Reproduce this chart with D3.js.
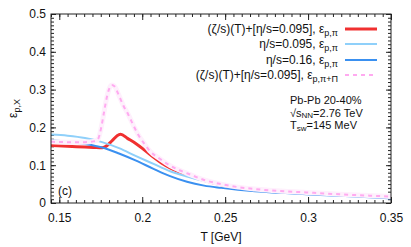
<!DOCTYPE html>
<html>
<head>
<meta charset="utf-8">
<script src="https://cdn.jsdelivr.net/npm/d3@7"></script>
<style>
  body { margin: 0; background: #fff; }
  svg { font-family: "Liberation Sans", Arial, sans-serif; }
</style>
</head>
<body>
<div id="chart"></div>
<script>
// data (T in GeV)
const zetaT = [0.145, 0.155, 0.1655, 0.1706, 0.1758, 0.1778, 0.1819, 0.186, 0.187, 0.1911, 0.1963, 0.2014, 0.2065, 0.2116,
  0.2168, 0.2219, 0.227, 0.2373, 0.2476, 0.2578, 0.268, 0.2783, 0.2885, 0.2988, 0.3193, 0.35];
const zetaV = [0.152, 0.150, 0.148, 0.147, 0.146, 0.149, 0.165, 0.181, 0.182, 0.171, 0.157, 0.140, 0.122, 0.106,
  0.093, 0.083, 0.076, 0.060, 0.048, 0.040, 0.035, 0.032, 0.029, 0.027, 0.022, 0.016];

const eta095T = [0.145, 0.155, 0.1655, 0.1758, 0.186, 0.1963, 0.2065, 0.2168, 0.227, 0.2373, 0.2476, 0.2578, 0.268, 0.2783, 0.2885, 0.2988, 0.3193, 0.35];
const eta095V = [0.181, 0.178, 0.172, 0.161, 0.145, 0.124, 0.104, 0.084, 0.070, 0.058, 0.049, 0.041, 0.036, 0.032, 0.029, 0.026, 0.022, 0.015];

const eta16T = [0.145, 0.155, 0.1655, 0.1758, 0.186, 0.1963, 0.2065, 0.2168, 0.227, 0.2373, 0.2476, 0.2578, 0.268, 0.2783, 0.2885, 0.2988, 0.3193, 0.35];
const eta16V = [0.166, 0.162, 0.156, 0.147, 0.131, 0.112, 0.091, 0.071, 0.056, 0.046, 0.040, 0.035, 0.031, 0.028, 0.026, 0.023, 0.019, 0.012];

const bulkT = [0.145, 0.155, 0.1655, 0.1706, 0.1732, 0.1753, 0.1768, 0.1783, 0.1799, 0.1816, 0.1834, 0.1856, 0.1886, 0.1917,
  0.1947, 0.1977, 0.2014, 0.2045, 0.2106, 0.2168, 0.2229, 0.2291, 0.2373, 0.2476, 0.2578, 0.268, 0.2783, 0.2988, 0.3193, 0.35];
const bulkV = [0.162, 0.161, 0.161, 0.163, 0.168, 0.200, 0.236, 0.272, 0.300, 0.312, 0.308, 0.288, 0.258, 0.233,
  0.205, 0.180, 0.156, 0.138, 0.117, 0.099, 0.086, 0.075, 0.061, 0.050, 0.042, 0.037, 0.033, 0.028, 0.023, 0.017];

const xTicks = [0.15, 0.2, 0.25, 0.3, 0.35];
const yTicks = [0, 0.1, 0.2, 0.3, 0.4, 0.5];

const series = [
  { name: '(ζ/s)(T)+[η/s=0.095], ε', sub: 'p,π', t: zetaT, v: zetaV, color: '#f03030', width: 3, dash: null },
  { name: 'η/s=0.095, ε', sub: 'p,π', t: eta095T, v: eta095V, color: '#8fd0fa', width: 2, dash: null },
  { name: 'η/s=0.16, ε', sub: 'p,π', t: eta16T, v: eta16V, color: '#3a90f0', width: 2, dash: null },
  { name: '(ζ/s)(T)+[η/s=0.095], ε', sub: 'p,π+Π', t: bulkT, v: bulkV, color: '#ffaaf0', width: 2, dash: '4,4' },
];

const W = 411, H = 247;
const margin = { top: 14, right: 20, bottom: 44, left: 51 };
const pw = W - margin.left - margin.right;
const ph = H - margin.top - margin.bottom;

const svg = d3.select('#chart').append('svg')
  .attr('width', W)
  .attr('height', H);

const g = svg.append('g').attr('transform', `translate(${margin.left},${margin.top})`);

const x = d3.scaleLinear().domain([0.145, 0.35]).range([0, pw]);
const y = d3.scaleLinear().domain([0, 0.5]).range([ph, 0]);

const fmt = (d) => String(+d.toFixed(2));

// minor ticks
const xMinor = d3.range(0, 42).map((i) => 0.145 + i * 0.005);
const yMinor = d3.range(0, 51).map((i) => i * 0.01);

function addAxis(axis, transform) {
  const a = g.append('g').attr('transform', transform).call(axis);
  a.select('.domain').remove();
  a.selectAll('line').attr('stroke', '#222');
  return a;
}

addAxis(d3.axisBottom(x).tickValues(xMinor).tickSize(-3).tickFormat(''), `translate(0,${ph})`);
addAxis(d3.axisTop(x).tickValues(xMinor).tickSize(-3).tickFormat(''), 'translate(0,0)');
addAxis(d3.axisLeft(y).tickValues(yMinor).tickSize(-3).tickFormat(''), 'translate(0,0)');
addAxis(d3.axisRight(y).tickValues(yMinor).tickSize(-3).tickFormat(''), `translate(${pw},0)`);

const xb = addAxis(d3.axisBottom(x).tickValues(xTicks).tickSize(-6).tickPadding(10).tickFormat(fmt), `translate(0,${ph})`);
addAxis(d3.axisTop(x).tickValues(xTicks).tickSize(-6).tickFormat(''), 'translate(0,0)');
const yl = addAxis(d3.axisLeft(y).tickValues(yTicks).tickSize(-5).tickPadding(5).tickFormat(fmt), 'translate(0,0)');
addAxis(d3.axisRight(y).tickValues(yTicks).tickSize(-5).tickFormat(''), `translate(${pw},0)`);

xb.selectAll('text').attr('font-size', 12).attr('fill', '#111').attr('font-family', 'Liberation Sans, Arial, sans-serif');
yl.selectAll('text').attr('font-size', 12).attr('fill', '#111').attr('font-family', 'Liberation Sans, Arial, sans-serif');

// clip curves to plot
svg.append('defs').append('clipPath').attr('id', 'plotclip')
  .append('rect').attr('width', pw).attr('height', ph);

const line = d3.line()
  .x((d) => x(d[0]))
  .y((d) => y(d[1]))
  .curve(d3.curveMonotoneX);

const curves = g.append('g').attr('clip-path', 'url(#plotclip)');

series.forEach((s) => {
  const pts = s.t.map((t, i) => [t, s.v[i]]);
  if (s.dash) {
    // faint band under the dashed curve
    curves.append('path')
      .attr('d', line(pts))
      .attr('fill', 'none')
      .attr('stroke', '#fef0fc')
      .attr('stroke-width', 5)
      .attr('stroke-linejoin', 'round');
  }
  curves.append('path')
    .attr('d', line(pts))
    .attr('fill', 'none')
    .attr('stroke', s.color)
    .attr('stroke-width', s.width)
    .attr('stroke-dasharray', s.dash)
    .attr('stroke-linejoin', 'round');
});

// frame
g.append('rect')
  .attr('width', pw)
  .attr('height', ph)
  .attr('fill', 'none')
  .attr('stroke', '#222')
  .attr('stroke-width', 1);

// legend
const legendY = [29, 44, 60, 75];
series.forEach((s, i) => {
  const ly = legendY[i];
  const t = svg.append('text')
    .attr('x', 338)
    .attr('y', ly + 4)
    .attr('text-anchor', 'end')
    .attr('font-size', 12)
    .attr('fill', '#111');
  t.append('tspan').text(s.name);
  t.append('tspan').attr('font-size', 9).attr('dy', 3).text(s.sub);

  svg.append('line')
    .attr('x1', 345)
    .attr('x2', 377)
    .attr('y1', ly)
    .attr('y2', ly)
    .attr('stroke', s.color)
    .attr('stroke-width', s.width)
    .attr('stroke-dasharray', s.dash);
});

// annotation
const ann = svg.append('g').attr('font-size', 11).attr('fill', '#111');
ann.append('text').attr('x', 290).attr('y', 104).text('Pb-Pb 20-40%');
const a2 = ann.append('text').attr('x', 290).attr('y', 116.5);
a2.append('tspan').text('√s');
a2.append('tspan').attr('font-size', 8).attr('dy', 1.5).text('NN');
a2.append('tspan').attr('dy', -1.5).text('=2.76 TeV');
const a3 = ann.append('text').attr('x', 290).attr('y', 129);
a3.append('tspan').text('T');
a3.append('tspan').attr('font-size', 8).attr('dy', 1.5).text('sw');
a3.append('tspan').attr('dy', -1.5).text('=145 MeV');

svg.append('text')
  .attr('x', 58)
  .attr('y', 195)
  .attr('font-size', 12)
  .attr('fill', '#111')
  .text('(c)');

// axis titles
svg.append('text')
  .attr('x', margin.left + pw / 2)
  .attr('y', 241)
  .attr('text-anchor', 'middle')
  .attr('font-size', 12)
  .attr('fill', '#111')
  .text('T [GeV]');

const yt = svg.append('text')
  .attr('transform', `translate(17,${margin.top + ph / 2}) rotate(-90)`)
  .attr('text-anchor', 'middle')
  .attr('font-size', 12)
  .attr('fill', '#111');
yt.append('tspan').text('ε');
yt.append('tspan').attr('font-size', 9).attr('dy', 3).text('p,X');
</script>
</body>
</html>
